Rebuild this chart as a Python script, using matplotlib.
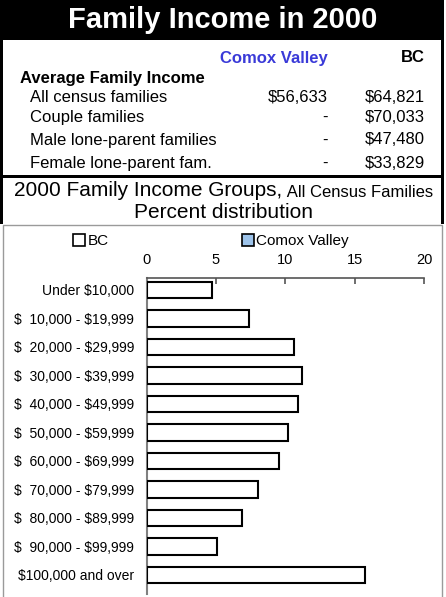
import matplotlib
matplotlib.use("Agg")
import matplotlib.pyplot as plt
from matplotlib.patches import Rectangle, Patch

plt.rcParams['font.family'] = ['Liberation Sans', 'DejaVu Sans']

# ---------------- data ----------------
title = "Family Income in 2000"
col_headers = ["Comox Valley", "BC"]
table_heading = "Average Family Income"
row_labels = ["All census families", "Couple families",
              "Male lone-parent families", "Female lone-parent fam."]
comox_values = ["$56,633", "-", "-", "-"]
bc_values = ["$64,821", "$70,033", "$47,480", "$33,829"]

categories = ["Under $10,000", "$  10,000 - $19,999", "$  20,000 - $29,999",
              "$  30,000 - $39,999", "$  40,000 - $49,999", "$  50,000 - $59,999",
              "$  60,000 - $69,999", "$  70,000 - $79,999", "$  80,000 - $89,999",
              "$  90,000 - $99,999", "$100,000 and over"]
bc_pct = [4.7, 7.4, 10.6, 11.2, 10.9, 10.2, 9.55, 8.0, 6.85, 5.1, 15.75]
series_names = ["BC", "Comox Valley"]
x_ticks = [0, 5, 10, 15, 20]

# ---------------- figure ----------------
W, H = 446, 597
DPI = 100
fig = plt.figure(figsize=(W / DPI, H / DPI), dpi=DPI)
fig.patch.set_facecolor("white")


def fx(px):
    return px / W


def fy(py):
    return 1 - py / H


def rect(x0, y0, x1, y1, **kw):
    fig.patches.append(Rectangle((fx(x0), fy(y1)), fx(x1) - fx(x0), fy(y0) - fy(y1),
                                 transform=fig.transFigure, **kw))


def txt(x, y, s, **kw):
    fig.text(fx(x), fy(y), s, parse_math=False, **kw)


# title band
rect(0, 0, 444, 40, facecolor="black", edgecolor="none")
txt(223, 20, title, color="white", fontsize=21, fontweight="bold",
    ha="center", va="center")

# upper frame borders
rect(0, 0, 3, 224, facecolor="black", edgecolor="none")
rect(441, 0, 444, 224, facecolor="black", edgecolor="none")
rect(0, 175, 444, 177.5, facecolor="black", edgecolor="none")
# chart box (thin grey)
rect(2.5, 224.5, 441.5, 600, facecolor="none", edgecolor="#9a9a9a", linewidth=1.0)

# table
blue = "#3a3ad8"
txt(328, 58, col_headers[0], color=blue, fontsize=12, fontweight="bold",
    ha="right", va="center")
txt(425, 58, col_headers[1], color="black", fontsize=12, fontweight="bold",
    ha="right", va="center")
txt(20.5, 78, table_heading, fontsize=12, fontweight="bold", ha="left", va="center")
row_y = [97.5, 117.5, 140, 163.5]
for lab, cv, bv, yy in zip(row_labels, comox_values, bc_values, row_y):
    txt(30, yy, lab, fontsize=12, ha="left", va="center")
    txt(328, yy, cv, fontsize=12, ha="right", va="center")
    txt(425, yy, bv, fontsize=12, ha="right", va="center")

# subtitle
txt(14, 191, "2000 Family Income Groups,", fontsize=15, ha="left", va="center")
txt(283, 192, " All Census Families", fontsize=12, ha="left", va="center")
txt(223, 213, "Percent distribution", fontsize=15, ha="center", va="center")

# chart
ax_left, ax_right, ax_top, ax_bot = 146.5, 424, 278, 594
ax = fig.add_axes([fx(ax_left), fy(ax_bot), fx(ax_right) - fx(ax_left),
                   fy(ax_top) - fy(ax_bot)])
ypos = list(range(len(categories)))
ax.barh(ypos, bc_pct, height=0.58, color="white", edgecolor="black",
        linewidth=1.5, zorder=3)
ax.set_xlim(0, 20)
ax.set_ylim(len(categories) - 1 + 0.67, -0.42)
ax.set_yticks(ypos)
ax.set_yticklabels(categories, fontsize=10, parse_math=False)
ax.tick_params(axis="y", length=0, pad=9)
ax.xaxis.tick_top()
ax.set_xticks(x_ticks)
ax.set_xticklabels([str(t) for t in x_ticks], fontsize=10.5)
ax.tick_params(axis="x", direction="in", length=4, width=1.2, color="#555555",
               pad=8, top=True, bottom=False)
for s in ["right", "bottom"]:
    ax.spines[s].set_visible(False)
ax.spines["left"].set_color("#808080")
ax.spines["left"].set_linewidth(1.5)
ax.spines["top"].set_color("#555555")
ax.spines["top"].set_linewidth(1.2)
ax.patch.set_alpha(0)

# legend
handles = [Patch(facecolor="white", edgecolor="black", linewidth=1.2, label=series_names[0]),
           Patch(facecolor="#9dc3ea", edgecolor="black", linewidth=1.2, label=series_names[1])]
fig.legend(handles=handles, loc="center left", bbox_to_anchor=(fx(73), fy(241)),
           bbox_transform=fig.transFigure, ncol=2, frameon=False, fontsize=11,
           borderpad=0, borderaxespad=0, handlelength=0.8, handleheight=0.8,
           handletextpad=0.15, columnspacing=8.7)

fig.savefig("out.png", dpi=DPI)
